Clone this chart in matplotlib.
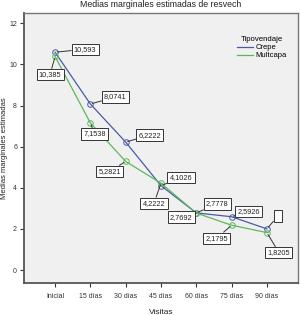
import matplotlib; matplotlib.use('Agg')
import matplotlib.pyplot as plt
from matplotlib.lines import Line2D

# Data
visitas = ['Inicial', '15 días', '30 días', '45 días', '60 días', '75 días', '90 días']
crepe = [10.593, 8.0741, 6.2222, 4.1026, 2.7778, 2.5926, 2.0]
multcapa = [10.385, 7.1538, 5.2821, 4.2222, 2.7692, 2.1795, 1.8205]
crepe_labels = ['10,593', '8,0741', '6,2222', '4,1026', '2,7778', '2,5926', '  ']
multcapa_labels = ['10,385', '7,1538', '5,2821', '4,2222', '2,7692', '2,1795', '1,8205']

# label box offsets in pixels (dx, dy)
crepe_off = [(30, 3), (25, 7), (24, 7), (20, 8), (21, 9), (17, 5), (11, 13)]
multcapa_off = [(-5, -18), (4, -11), (-16, -10), (-7, -20), (-15, -4), (-15, -13), (12, -20)]

BLUE = '#4a5aa8'
GREEN = '#5cb85c'

plt.rcParams['font.family'] = ['Liberation Sans', 'DejaVu Sans']

fig = plt.figure(figsize=(3.0, 3.15), dpi=100)
ax = fig.add_axes([24 / 300, 1 - 283 / 315, 274 / 300, 270 / 315])
ax.set_facecolor('#f0f0f0')

x = list(range(len(visitas)))
ax.plot(x, crepe, color=BLUE, lw=0.9, marker='o', ms=4, mfc='none', mec=BLUE, mew=0.7, zorder=3)
ax.plot(x, multcapa, color=GREEN, lw=0.9, marker='o', ms=4, mfc='none', mec=GREEN, mew=0.7, zorder=3)

px2pt = 72 / 100
for series, labels, offs in ((crepe, crepe_labels, crepe_off), (multcapa, multcapa_labels, multcapa_off)):
    for i, (v, lab, (dx, dy)) in enumerate(zip(series, labels, offs)):
        ax.annotate(lab, xy=(i, v), xytext=(dx * px2pt, dy * px2pt), textcoords='offset points',
                    ha='center', va='center', fontsize=5.3, color='#222222',
                    bbox=dict(boxstyle='square,pad=0.3', fc='white', ec='#333333', lw=0.7),
                    arrowprops=dict(arrowstyle='-', color='#333333', lw=0.7, shrinkA=0, shrinkB=1.5),
                    zorder=4)

ax.set_xlim(-0.88, 6.88)
ax.set_ylim(-0.63, 12.5)
ax.set_xticks(x)
ax.set_xticklabels(visitas)
ax.set_yticks([0, 2, 4, 6, 8, 10, 12])
ax.tick_params(axis='both', labelsize=5, colors='#333333', length=3, width=0.8, pad=2)
ax.tick_params(axis='x', pad=4)

for s in ax.spines.values():
    s.set_color('#777777')
    s.set_linewidth(1.0)
ax.spines['left'].set_color('#555555')
ax.spines['bottom'].set_color('#555555')
ax.spines['left'].set_linewidth(1.3)
ax.spines['bottom'].set_linewidth(1.3)

ax.set_title('Medias marginales estimadas de resvech', fontsize=6.3, color='#222222', pad=4)
ax.set_xlabel('Visitas', fontsize=6, color='#222222', labelpad=7)
ax.set_ylabel('Medias marginales estimadas', fontsize=5.5, color='#222222')
ax.yaxis.set_label_coords(-0.06, 0.5)

handles = [Line2D([], [], color=BLUE, lw=0.9), Line2D([], [], color=GREEN, lw=0.9)]
leg = ax.legend(handles, ['Crepe', 'Multcapa'], title='Tipovendaje', loc='upper right',
                bbox_to_anchor=(0.985, 0.94), frameon=False,
                fontsize=5.5, title_fontsize=5.6, handlelength=2.2, handletextpad=0.3,
                labelspacing=0.1)

fig.savefig('out.png', dpi=100)
